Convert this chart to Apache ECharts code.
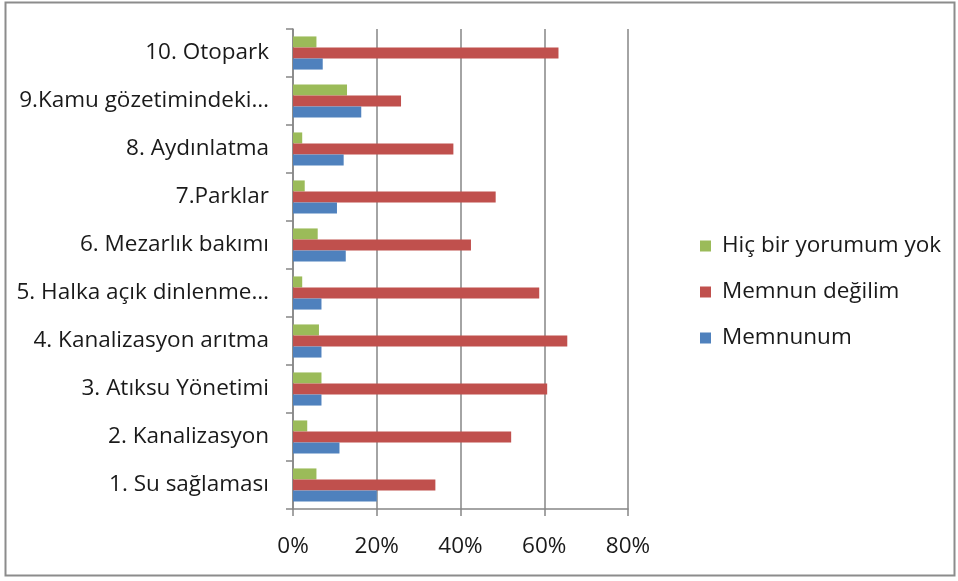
<!DOCTYPE html>
<html><head><meta charset="utf-8">
<script src="https://cdn.jsdelivr.net/npm/echarts@6/dist/echarts.min.js"></script>
<style>html,body{margin:0;padding:0;background:#fff;}#c{width:958px;height:581px;}</style>
</head><body><div id="c"></div>
<script>
const categories = ["1. Su sağlaması","2. Kanalizasyon","3. Atıksu Yönetimi","4. Kanalizasyon arıtma","5. Halka açık dinlenme…","6. Mezarlık bakımı","7.Parklar","8. Aydınlatma","9.Kamu gözetimindeki…","10. Otopark"];
const memnunum = [20.0, 11.1, 6.8, 6.8, 6.8, 12.6, 10.5, 12.1, 16.3, 7.1];
const memnunDegilim = [34.0, 52.1, 60.7, 65.5, 58.8, 42.5, 48.4, 38.3, 25.8, 63.4];
const yorumYok = [5.6, 3.4, 6.8, 6.2, 2.2, 5.9, 2.8, 2.2, 12.9, 5.6];
const xTicks = [0, 20, 40, 60, 80];

const chart = echarts.init(document.getElementById('c'));
const font = 'Open Sans';
chart.setOption({
  animation: false,
  graphic: [{type:'rect', shape:{x:5.5,y:2.5,width:949,height:573}, style:{fill:'none', stroke:'#8c8c8c', lineWidth:2}, silent:true}],
  grid: {left: 293, right: 958-628, top: 29, bottom: 581-509},
  legend: {
    orient: 'vertical', left: 695, top: 229,
    data: ['Hiç bir yorumum yok','Memnun değilim','Memnunum'],
    itemWidth: 11, itemHeight: 11, itemGap: 22,
    icon: 'rect',
    textStyle: {fontFamily: font, fontSize: 22.5, lineHeight: 24, color: '#1a1a1a', padding: [0,0,0,6]}
  },
  xAxis: {
    type: 'value', min: 0, max: 80, interval: 20,
    axisLine: {show: true, lineStyle: {color: '#868686', width: 1.5}},
    axisTick: {show: true, length: 7, lineStyle: {color: '#868686', width: 1.5}},
    splitLine: {show: true, lineStyle: {color: '#868686', width: 1.5}},
    axisLabel: {formatter: v => xTicks.includes(v) ? v + '%' : '', fontFamily: font, fontSize: 22.5, color: '#1a1a1a', margin: 26}
  },
  yAxis: {
    type: 'category', data: categories,
    axisLine: {show: true, lineStyle: {color: '#868686', width: 1.5}},
    axisTick: {show: true, length: 7, lineStyle: {color: '#868686', width: 1.5}},
    axisLabel: {fontFamily: font, fontSize: 22.5, color: '#1a1a1a', margin: 24}
  },
  series: [
    {name: 'Hiç bir yorumum yok', type: 'bar', data: yorumYok, barGap: '0%', barCategoryGap: '31%', itemStyle: {color: '#9BBB59'}},
    {name: 'Memnun değilim', type: 'bar', data: memnunDegilim, barGap: '0%', barCategoryGap: '31%', itemStyle: {color: '#C0504D'}},
    {name: 'Memnunum', type: 'bar', data: memnunum, barGap: '0%', barCategoryGap: '31%', itemStyle: {color: '#4F81BD'}}
  ]
});
</script></body></html>
